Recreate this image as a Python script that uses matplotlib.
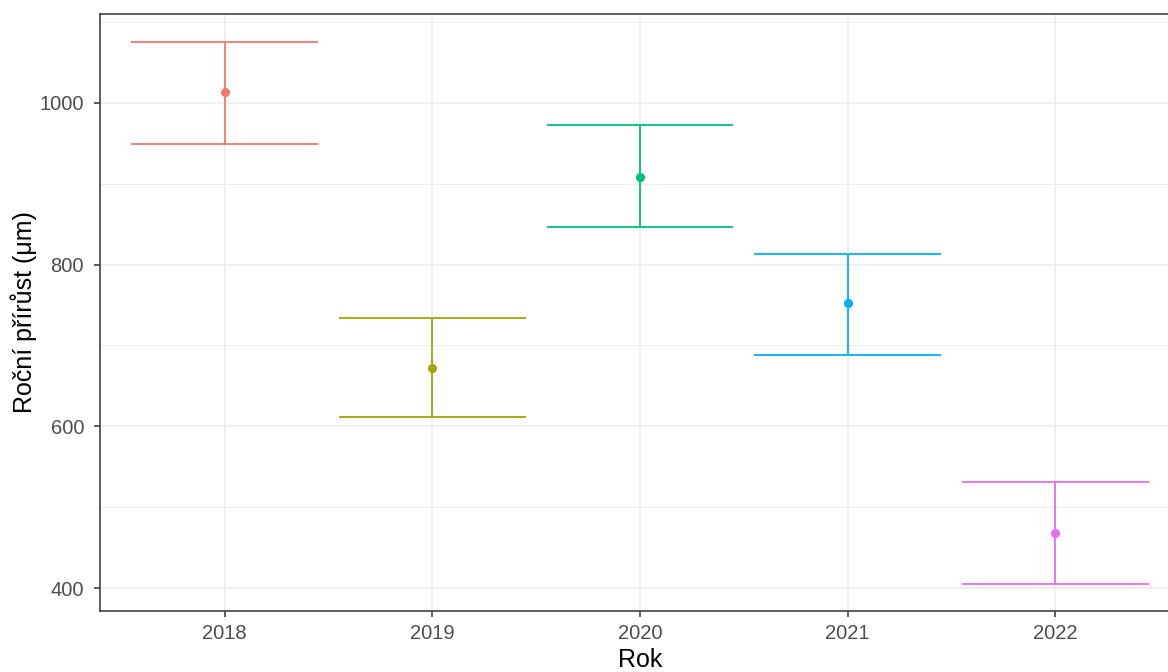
import matplotlib
matplotlib.use('Agg')
import matplotlib.pyplot as plt

years = ['2018', '2019', '2020', '2021', '2022']
mean_growth = [1013, 672, 909, 752, 468]
upper = [1075, 734, 973, 813, 531]
lower = [949, 611, 847, 688, 405]
colors = ['#F8766D', '#A3A500', '#00BF7D', '#00B0F6', '#E76BF3']

plt.rcParams['font.family'] = ['Liberation Sans', 'DejaVu Sans']

fig = plt.figure(figsize=(11.68, 6.72), dpi=100)
ax = fig.add_axes([100/1168, 1 - 611/672, 1080/1168, 597/672])

pos = list(range(1, len(years) + 1))
for p, m, u, l, c in zip(pos, mean_growth, upper, lower, colors):
    ax.vlines(p, l, u, color=c, lw=1.3, zorder=3)
    ax.hlines([l, u], p - 0.45, p + 0.45, color=c, lw=1.3, zorder=3)
    ax.plot(p, m, 'o', color=c, ms=5.5, zorder=4)

ax.set_xlim(0.4, 5.6)
ax.set_ylim(371.6, 1110)
ax.set_xticks(pos)
ax.set_xticklabels(years)
ax.set_yticks([400, 600, 800, 1000])
ax.set_yticks([500, 700, 900, 1100], minor=True)

ax.grid(True, which='major', color='#EBEBEB', lw=1.1, zorder=0)
ax.grid(True, which='minor', axis='y', color='#EBEBEB', lw=0.6, zorder=0)
ax.set_axisbelow(True)
for s in ax.spines.values():
    s.set_color('#333333')
    s.set_linewidth(1.1)

ax.tick_params(axis='both', which='major', colors='#333333', labelcolor='#4D4D4D',
               labelsize=14.5, length=4.5, width=1.1)
ax.tick_params(axis='y', which='major', pad=7)
ax.tick_params(axis='x', which='major', pad=5)
ax.tick_params(axis='y', which='minor', length=0)

ax.set_xlabel('Rok', fontsize=18, color='black', labelpad=3.5)
ax.set_ylabel('Roční přírůst (μm)', fontsize=18, color='black', labelpad=2)

fig.savefig('out.png', dpi=100)
